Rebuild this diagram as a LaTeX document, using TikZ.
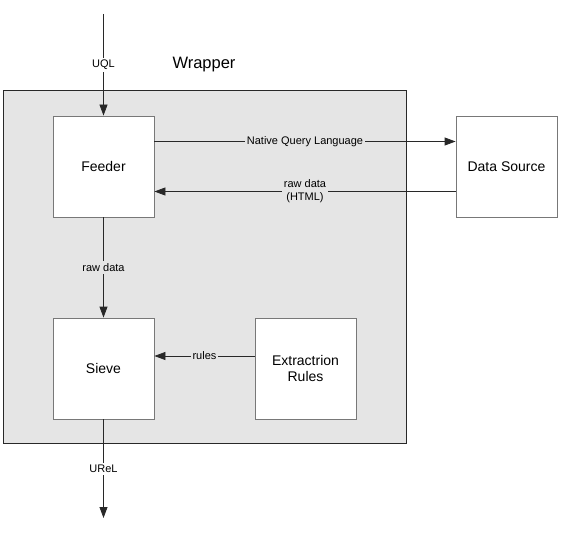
\documentclass[tikz,border=0pt]{standalone}
\usepackage{fontspec}
\setmainfont{Liberation Sans}
\usetikzlibrary{arrows.meta}
\definecolor{wrapgray}{RGB}{229,229,229}
\definecolor{boxedge}{RGB}{120,120,120}
\definecolor{linegray}{RGB}{40,40,40}
\begin{document}
\begin{tikzpicture}[>={Triangle[length=11pt,width=8pt]},x=1pt,y=-1pt,line width=0.8pt,
	box/.style={draw=boxedge,fill=white,minimum width=101pt,minimum height=101pt,align=center,font=\fontsize{14}{16}\selectfont},
	lbl/.style={fill=wrapgray,inner sep=2pt,align=center,font=\fontsize{11}{13}\selectfont},
	flow/.style={->,draw=linegray}]
	\def\off{25pt}
	\useasboundingbox (0,0) rectangle (561,537);
	% the wrapper and its title
	\node[draw=linegray,fill=wrapgray,minimum width=403pt,minimum height=353pt] (wrapper) at (204.5,266.5) {};
	\node[font=\fontsize{16.5}{18}\selectfont] (title) at (204,65) {Wrapper};
	% boxes
	\node[box] (feeder) at (103.5,166.5) {Feeder};
	\node[box] (sieve) at (103.5,368.5) {Sieve};
	\node[box] (rules) at (305.5,368.5) {Extractrion\\Rules};
	\node[box] (source) at (506.5,166.5) {Data Source};
	\coordinate (in) at (103.5,14);
	\coordinate (out) at (103.5,518);
	% flows
	\draw[flow] (in) -- node[lbl,fill=white]{UQL} (feeder);
	\draw[flow] ([yshift=\off]feeder.east) -- node[lbl]{Native Query Language} ([yshift=\off]source.west);
	\draw[flow] ([yshift=-\off]source.west) -- node[lbl]{raw data\\(HTML)} ([yshift=-\off]feeder.east);
	\draw[flow] (feeder) -- node[lbl]{raw data} (sieve);
	\draw[flow] ([yshift=12.5pt]rules.west) -- node[lbl]{rules} ([yshift=12.5pt]sieve.east);
	\draw[flow] (sieve) -- node[lbl,fill=white]{UReL} (out);
\end{tikzpicture}
\end{document}
